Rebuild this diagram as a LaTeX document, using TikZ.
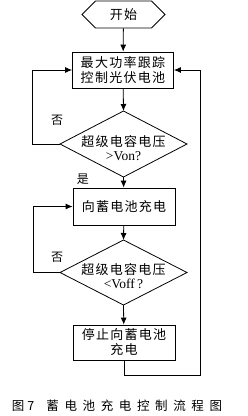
\documentclass[tikz,border=0pt]{standalone}
\usepackage{fontspec}
\setmainfont{Liberation Serif}
\newfontfamily\cjk{Noto Sans CJK SC}[LetterSpace=10]
\newfontfamily\cjkcap{Noto Sans CJK SC}[LetterSpace=45]
\usetikzlibrary{shapes.symbols,arrows.meta}
\begin{document}
\begin{tikzpicture}[x=1pt,y=-1pt,
  line width=0.8pt,
  arr/.style={-{Latex[length=7pt,width=6pt]}},
  procbox/.style={draw,minimum width=101pt,minimum height=36pt,inner sep=1pt,align=center,font=\fontsize{13}{15}\cjk},
  dtext/.style={align=center,inner sep=0pt,font=\fontsize{13}{14}\cjk},
  lbl/.style={font=\fontsize{12}{14}\cjk,inner sep=0pt}]
\useasboundingbox (0,0) rectangle (247,416);
% start
\node[draw,signal,signal to=west and east,minimum width=83pt,minimum height=27pt,inner sep=0pt,font=\fontsize{13}{15}\cjk] (start) at (123.5,14.5) {开始};
\node[procbox] (b1) at (123,70) {最大功率跟踪\\控制光伏电池};
% diamond 1
\coordinate (d1t) at (123.5,111);
\coordinate (d1l) at (60,144);
\coordinate (d1r) at (187,144);
\coordinate (d1b) at (123.5,177);
\draw (d1t) -- (d1r) -- (d1b) -- (d1l) -- cycle;
\node[dtext] (d1) at (123.5,148) {超级电容电压\\{\rmfamily\fontsize{13.5}{14}\selectfont >Von?}};
\node[procbox,minimum width=102pt,minimum height=37pt] (b2) at (124,206.5) {向蓄电池充电};
% diamond 2
\coordinate (d2t) at (123.5,240);
\coordinate (d2l) at (60,272.5);
\coordinate (d2r) at (187,272.5);
\coordinate (d2b) at (123.5,305);
\draw (d2t) -- (d2r) -- (d2b) -- (d2l) -- cycle;
\node[dtext] (d2) at (123.5,276) {超级电容电压\\{\rmfamily\fontsize{13.5}{14}\selectfont <Voff\,?}};
\node[procbox,minimum width=102pt,minimum height=35pt] (b3) at (124,342.5) {停止向蓄电池\\充电};
% connectors
\draw[arr] (start) -- (b1);
\draw[arr] (b1) -- (d1t);
\draw[arr] (d1b) -- (b2);
\draw[arr] (b2) -- (d2t);
\draw[arr] (d2b) -- (b3);
\coordinate (l1) at (32,144);
\coordinate (l1u) at (32,70);
\draw[arr] (d1l) -- (l1) -- (l1u) -- (b1.west);
\coordinate (l2) at (33,272.5);
\coordinate (l2u) at (33,206.5);
\draw[arr] (d2l) -- (l2) -- (l2u) -- (b2.west);
\coordinate (r1) at (124,375);
\coordinate (r2) at (200,375);
\coordinate (r3) at (200,70);
\draw[arr] (b3.south) -- (r1) -- (r2) -- (r3) -- (b1.east);
% labels
\node[lbl] (no1) at (57,120) {否};
\node[lbl] (yes1) at (83,179) {是};
\node[lbl] (no2) at (57,257) {否};
% caption
\node[inner sep=0pt,font=\fontsize{12.5}{14}\cjkcap] (cap) at (117,406) {图\hspace{3pt}7\hspace{12pt}蓄电池充电控制流程图};
\end{tikzpicture}
\end{document}
